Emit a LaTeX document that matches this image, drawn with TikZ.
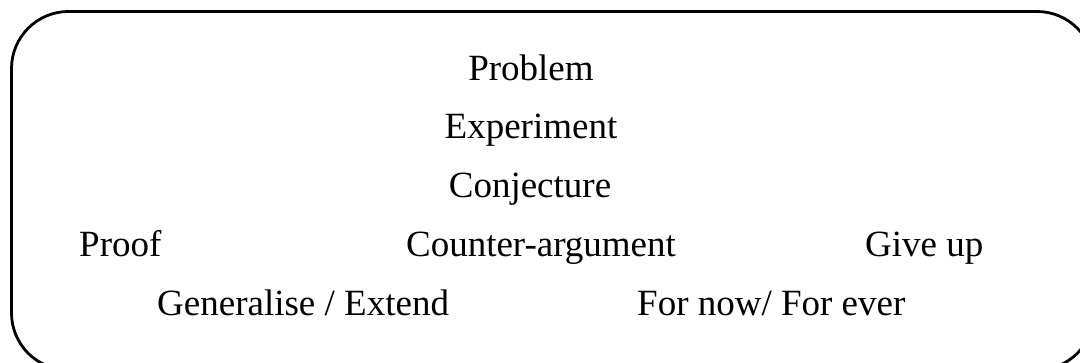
\documentclass[tikz,border=0pt]{standalone}
\usepackage{fontspec}
\setmainfont{Liberation Serif}
\begin{document}
\begin{tikzpicture}[x=1pt,y=-1pt,
  lbl/.style={inner sep=0pt,font=\fontsize{37}{44}\selectfont},
  frame/.style={draw=black,line width=2.8pt,rounded corners=57pt}]
\useasboundingbox (0,0) rectangle (1080,363);
\clip (0,0) rectangle (1080,363);
\fill[white] (0,0) rectangle (1080,363);
\draw[frame] (11.5,11.5) rectangle (1094,370);
\node[lbl,anchor=base] (problem) at (531,81) {Problem};
\node[lbl,anchor=base] (experiment) at (531,139) {Experiment};
\node[lbl,anchor=base] (conjecture) at (530,198) {Conjecture};
\node[lbl,anchor=base west] (proof) at (79,257) {Proof};
\node[lbl,anchor=base] (counter) at (541,257) {Counter-argument};
\node[lbl,anchor=base west] (giveup) at (865,257) {Give up};
\node[lbl,anchor=base west] (general) at (157,316) {Generalise / Extend};
\node[lbl,anchor=base west] (fornow) at (637,316) {For now/ For ever};
\end{tikzpicture}
\end{document}
